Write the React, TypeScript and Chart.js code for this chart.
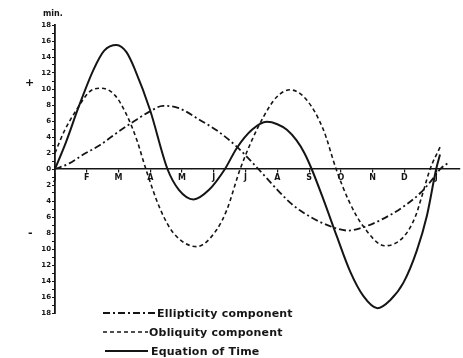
import React, { useEffect, useRef } from "react";
import { Chart, registerables } from "chart.js";

Chart.register(...registerables);

const monthLabels = ["J", "F", "M", "A", "M", "J", "J", "A", "S", "O", "N", "D", "J"];

const ellipticityMonths = [0, 0.45, 0.89, 1.42, 1.94, 2.5, 2.99, 3.4, 3.9, 4.57, 5.1, 5.72, 6.4, 7.0, 7.4, 7.72, 8.45, 9.24, 9.61, 10.24, 10.97, 11.5, 11.86, 12.13, 12.39];
const ellipticityValues = [0, 0.7, 1.8, 3.0, 4.5, 6.0, 7.2, 7.9, 7.6, 6.1, 4.8, 2.8, 0, -2.6, -4.2, -5.2, -6.8, -7.7, -7.4, -6.4, -4.7, -3.0, -1.4, 0, 0.8];

const obliquityMonths = [0, 0.3, 0.68, 1.1, 1.47, 1.89, 2.24, 2.57, 2.86, 3.31, 3.73, 4.46, 5.09, 5.41, 5.83, 6.2, 6.56, 6.98, 7.4, 7.93, 8.45, 8.85, 9.24, 9.71, 10.39, 10.97, 11.34, 11.55, 11.81, 12.13];
const obliquityValues = [2.0, 4.8, 7.4, 9.7, 10.1, 9.2, 6.9, 3.7, 0, -5.0, -8.0, -9.7, -7.6, -5.1, 0, 3.6, 6.5, 9.0, 9.9, 8.6, 4.9, 0, -3.9, -7.2, -9.6, -8.5, -6.0, -3.4, 0, 2.8];

const equationMonths = [0, 0.35, 0.73, 1.21, 1.55, 1.94, 2.25, 2.52, 2.99, 3.54, 3.9, 4.36, 4.85, 5.35, 5.72, 6.2, 6.67, 7.0, 7.3, 7.6, 7.85, 8.08, 8.45, 8.87, 9.29, 9.71, 10.15, 10.55, 10.97, 11.39, 11.71, 12.0, 12.12];
const equationValues = [0, 3.4, 7.6, 12.4, 14.8, 15.5, 14.6, 12.4, 7.4, 0, -2.6, -3.8, -2.6, 0, 2.6, 4.9, 5.9, 5.6, 4.9, 3.6, 2.0, 0, -3.8, -8.4, -12.8, -15.9, -17.4, -16.4, -14.2, -10.2, -5.8, 0, 1.8];

const legendLabels = ["Ellipticity component", "Obliquity component", "Equation of Time"];

const toPoints = (xs: number[], ys: number[]) => xs.map((x, i) => ({ x, y: ys[i] }));

const INK = "#151515";
const FONT = "'DejaVu Sans', sans-serif";

export default function App() {
  const ref = useRef<HTMLCanvasElement | null>(null);

  useEffect(() => {
    if (!ref.current) return;
    const common = { pointRadius: 0, cubicInterpolationMode: "monotone" as const, fill: false, borderColor: INK };
    const chart = new Chart(ref.current, {
      type: "line",
      data: {
        datasets: [
          {
            ...common,
            label: legendLabels[0],
            data: toPoints(ellipticityMonths, ellipticityValues),
            borderWidth: 1.8,
            borderDash: [7, 3, 2, 3],
          },
          {
            ...common,
            label: legendLabels[1],
            data: toPoints(obliquityMonths, obliquityValues),
            borderWidth: 1.6,
            borderDash: [4, 3],
          },
          {
            ...common,
            label: legendLabels[2],
            data: toPoints(equationMonths, equationValues),
            borderWidth: 2,
          },
        ],
      },
      options: {
        animation: false,
        responsive: false,
        devicePixelRatio: 1,
        layout: { padding: { left: 0, top: 25, right: 3, bottom: 45 } },
        plugins: { legend: { display: false }, tooltip: { enabled: false } },
        scales: {
          x: {
            type: "linear",
            position: { y: 0 } as any,
            min: 0,
            max: 12.75,
            afterBuildTicks: (scale: any) => {
              scale.ticks = monthLabels.map((_, i) => ({ value: i }));
            },
            ticks: {
              stepSize: 1,
              autoSkip: false,
              maxRotation: 0,
              padding: 1,
              color: INK,
              font: { family: FONT, size: 8, weight: "bold" },
              callback: (v: any) => monthLabels[Math.round(Number(v))] ?? "",
            },
            grid: { drawOnChartArea: false, drawTicks: true, tickLength: 3, color: INK, lineWidth: 1.2 },
            border: { display: true, color: INK, width: 1.6 },
          },
          y: {
            type: "linear",
            min: -18,
            max: 18,
            afterFit: (scale: any) => {
              scale.width = 55;
            },
            ticks: {
              stepSize: 1,
              autoSkip: false,
              padding: 1,
              color: INK,
              font: { family: FONT, size: 7, weight: "bold" },
              callback: (v: any) => (Number(v) % 2 === 0 ? String(Math.abs(Number(v))) : ""),
            },
            grid: { drawOnChartArea: false, drawTicks: true, tickLength: 3, color: INK, lineWidth: 1 },
            border: { display: true, color: INK, width: 1.8 },
          },
        },
      },
    });
    return () => chart.destroy();
  }, []);

  const txt = (s: string, left: number, cy: number, size: number, extra: any = {}) => (
    <span
      style={{
        position: "absolute",
        left,
        top: cy - size / 2,
        fontFamily: FONT,
        fontSize: size,
        fontWeight: "bold",
        lineHeight: 1,
        color: INK,
        whiteSpace: "nowrap",
        ...extra,
      }}
    >
      {s}
    </span>
  );

  const legendRow = (
    label: string,
    cy: number,
    lineLeft: number,
    lineRight: number,
    textLeft: number,
    dash: string | undefined,
    width: number
  ) => (
    <div key={label}>
      <svg
        width={lineRight - lineLeft}
        height={6}
        style={{ position: "absolute", left: lineLeft, top: cy - 3 }}
      >
        <line x1={0} y1={3} x2={lineRight - lineLeft} y2={3} stroke={INK} strokeWidth={width} strokeDasharray={dash} />
      </svg>
      {txt(label, textLeft, cy, 11, { letterSpacing: "0.2px" })}
    </div>
  );

  return (
    <div style={{ position: "fixed", left: 0, top: 0, width: 463, height: 358, background: "#fff", overflow: "hidden" }}>
      <canvas ref={ref} width={463} height={358} style={{ position: "absolute", left: 0, top: 0, width: 463, height: 358 }} />
      {txt("min.", 43, 14, 8)}
      {txt("+", 25, 82, 11)}
      {txt("-", 28, 232, 11)}
      {legendRow(legendLabels[0], 313, 103, 155, 157, "7 3 2 3", 1.8)}
      {legendRow(legendLabels[1], 332, 103, 148, 149, "4 3", 1.6)}
      {legendRow(legendLabels[2], 351, 105, 148, 151, undefined, 2)}
    </div>
  );
}
